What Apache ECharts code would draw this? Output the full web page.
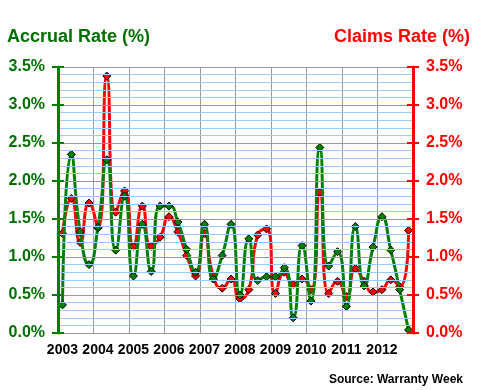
<!DOCTYPE html>
<html><head><meta charset="utf-8">
<script src="https://cdn.jsdelivr.net/npm/echarts@6/dist/echarts.min.js"></script>
<style>html,body{margin:0;padding:0;background:#fff}#c{width:480px;height:390px}</style>
</head><body><div id="c"></div>
<script>
var years = ['2003','2004','2005','2006','2007','2008','2009','2010','2011','2012'];
var quarters = ['Q1','Q2','Q3','Q4'];
var accrualRate = [0.37,2.35,1.33,0.90, 1.39,2.28,1.09,1.80, 0.75,1.43,0.81,1.67, 1.67,1.46,1.10,0.80,
  1.43,0.71,1.02,1.43, 0.50,1.24,0.69,0.74, 0.74,0.86,0.20,1.15, 0.42,2.44,0.88,1.07,
  0.35,1.40,0.62,1.13, 1.53,1.09,0.57,0.04];
var claimsRate = [1.31,1.77,1.19,1.71, 1.38,3.38,1.59,1.87, 1.14,1.67,1.14,1.26, 1.53,1.33,1.02,0.75,
  1.31,0.75,0.59,0.71, 0.45,0.57,1.29,1.37, 0.52,0.80,0.64,0.71, 0.57,1.85,0.52,0.68,
  0.48,0.85,0.68,0.54, 0.57,0.70,0.61,1.35];
var yTicks = {min:0, max:3.5, interval:0.5};

var cats = [];
years.forEach(function(y){ quarters.forEach(function(q){ cats.push(y + ' ' + q); }); });

var FONT = "'Liberation Sans', Arial, sans-serif";
var GREEN = '#008000', GREEN_TXT = '#007000', RED = '#ff0000';
function pct(v){ return v.toFixed(1) + '%'; }

var chart = echarts.init(document.getElementById('c'), null, {renderer:'canvas'});
chart.setOption({
  animation:false,
  backgroundColor:'#fff',
  grid:{left:58, right:67, top:67, bottom:57},
  graphic:[
    {type:'text', left:7, top:28, style:{text:'Accrual Rate (%)', fill:GREEN_TXT, font:'bold 18px ' + FONT}},
    {type:'text', right:10, top:28, style:{text:'Claims Rate (%)', fill:RED, font:'bold 18px ' + FONT}},
    {type:'text', right:17, top:374, style:{text:'Source: Warranty Week', fill:'#000', font:'bold 12px ' + FONT}}
  ],
  xAxis:{
    type:'category', data:cats, boundaryGap:true,
    axisLine:{show:false}, axisTick:{show:false},
    axisLabel:{interval:3, color:'#000', fontWeight:'bold', fontSize:14, fontFamily:FONT, margin:10,
      formatter:function(v){ return v.split(' ')[0]; }},
    splitLine:{show:true, interval:3, lineStyle:{color:'#999999', width:1}}
  },
  yAxis:[
    {type:'value', position:'left', min:yTicks.min, max:yTicks.max, interval:yTicks.interval,
      axisLine:{show:true, lineStyle:{color:GREEN, width:3}},
      axisTick:{show:true, inside:false, length:6, lineStyle:{color:GREEN, width:2}},
      axisLabel:{formatter:pct, color:GREEN_TXT, fontWeight:'bold', fontSize:16, fontFamily:FONT, margin:13},
      splitLine:{show:true, lineStyle:{color:'#999999', width:1}},
      minorTick:{show:false, splitNumber:5},
      minorSplitLine:{show:true, lineStyle:{color:'#99ccff', width:1}},
      z:5},
    {type:'value', position:'right', min:yTicks.min, max:yTicks.max, interval:yTicks.interval,
      axisLine:{show:true, lineStyle:{color:RED, width:3}},
      axisTick:{show:true, inside:false, length:6, lineStyle:{color:RED, width:2}},
      axisLabel:{formatter:pct, color:RED, fontWeight:'bold', fontSize:16, fontFamily:FONT, margin:13},
      splitLine:{show:false}, z:5},
    {type:'value', position:'left', min:yTicks.min, max:yTicks.max, interval:yTicks.interval,
      axisLine:{show:false}, axisLabel:{show:false}, splitLine:{show:false},
      axisTick:{show:true, inside:true, length:6, lineStyle:{color:GREEN, width:2}}, z:5},
    {type:'value', position:'right', min:yTicks.min, max:yTicks.max, interval:yTicks.interval,
      axisLine:{show:false}, axisLabel:{show:false}, splitLine:{show:false},
      axisTick:{show:true, inside:true, length:6, lineStyle:{color:RED, width:2}}, z:5}
  ],
  series:[
    {name:'Claims Rate', type:'line', yAxisIndex:1, data:claimsRate, smooth:0.6, showAllSymbol:true,
      lineStyle:{color:RED, width:3}, symbol:'diamond', symbolSize:8,
      itemStyle:{color:RED, borderColor:'#000', borderWidth:1}, z:2},
    {name:'Accrual Rate', type:'line', yAxisIndex:0, data:accrualRate, smooth:0.6, showAllSymbol:true,
      lineStyle:{color:GREEN, width:3}, symbol:'diamond', symbolSize:8,
      itemStyle:{color:GREEN, borderColor:'#000', borderWidth:1}, z:3}
  ]
});
</script></body></html>
